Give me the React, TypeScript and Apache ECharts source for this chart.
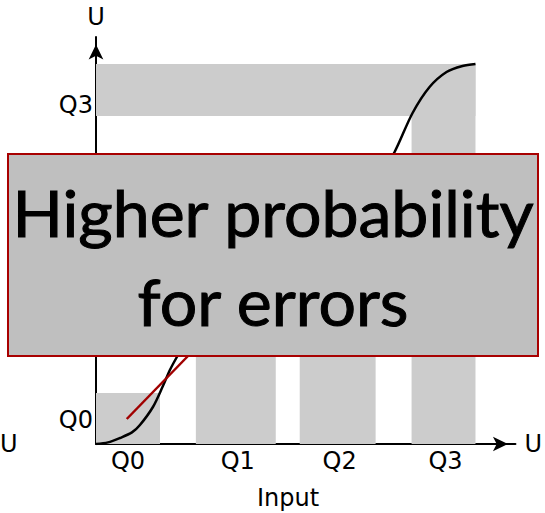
import React, { useEffect, useRef } from "react";
import * as echarts from "echarts";

// Quantisation bins on the input axis
const inputBinLabels = ["Q0", "Q1", "Q2", "Q3"];
const inputBinLabelPos = [8, 35.5, 61, 87.5];
const inputBinStart = [0, 25, 51, 79];
const inputBinEnd = [16, 45, 70, 95];
const inputBinTop = [12.75, 40, 60, 95];

// Output levels on the U axis
const outputLabels = ["Q0", "Q3"];
const outputLabelPos = [6.1, 84.75];
const outputBandLow = [0, 82];
const outputBandHigh = [12.75, 95];
const outputBandEnd = [16, 95];

// Transfer curve
const curveX = [0, 3, 6, 9, 11, 14.25, 16.75, 18.5, 20.25, 25, 32, 40, 47.5, 55, 63, 70, 74.75, 79.25, 83.5, 87.75, 91.75, 95];
const curveY = [0, 0.4, 1.5, 2.9, 4.75, 9.25, 14.5, 18.5, 21.75, 30, 39, 45, 47.5, 50, 56, 65, 73, 82.75, 89.25, 93, 94.5, 95];

// Tangent at the lower knee
const tangentX = [7.7, 24];
const tangentY = [6.25, 23];

const FONT = "'DejaVu Sans', Verdana, sans-serif";

export default function App() {
  const ref = useRef<HTMLDivElement>(null);

  useEffect(() => {
    if (!ref.current) return;
    const chart = echarts.init(ref.current, null, { renderer: "svg" });

    const rects: number[][] = [];
    inputBinStart.forEach((s, i) => rects.push([s, inputBinEnd[i], 0, inputBinTop[i]]));
    outputBandLow.forEach((lo, i) => rects.push([0, outputBandEnd[i], lo, outputBandHigh[i]]));

    const axisLine = (symbolOffset: number[]) => ({
      show: true,
      symbol: ["none", "arrow"],
      symbolSize: [11, 15],
      symbolOffset,
      lineStyle: { color: "#000", width: 2 },
    });

    const boxText = (text: string, y: number) => ({
      type: "text",
      x: 273,
      y,
      z: 101,
      scaleX: 1.05,
      style: {
        text,
        font: "63px Lato",
        fill: "#000",
        stroke: "#000",
        lineWidth: 1,
        textAlign: "center",
        textVerticalAlign: "middle",
      },
    });

    chart.setOption({
      animation: false,
      backgroundColor: "#fff",
      grid: { left: 96, top: 37, width: 420, height: 407, containLabel: false },
      xAxis: {
        type: "value",
        min: 0,
        max: 105,
        name: "U",
        nameLocation: "end",
        nameGap: 9,
        nameTextStyle: { fontFamily: FONT, fontSize: 24, color: "#000" },
        axisLine: axisLine([0, -7.5]),
        axisTick: { show: false },
        splitLine: { show: false },
        axisLabel: {
          customValues: inputBinLabelPos,
          formatter: (v: number) => inputBinLabels[inputBinLabelPos.indexOf(v)] ?? "",
          fontFamily: FONT,
          fontSize: 24,
          color: "#000",
          verticalAlign: "middle",
          margin: 17,
        },
      },
      yAxis: {
        type: "value",
        min: 0,
        max: 101.75,
        name: "U",
        nameLocation: "end",
        nameGap: 8,
        nameTextStyle: { fontFamily: FONT, fontSize: 24, color: "#000" },
        axisLine: axisLine([0, -7.5]),
        axisTick: { show: false },
        splitLine: { show: false },
        axisLabel: {
          customValues: outputLabelPos,
          formatter: (v: number) => outputLabels[outputLabelPos.indexOf(v)] ?? "",
          fontFamily: FONT,
          fontSize: 24,
          color: "#000",
          margin: 3,
        },
      },
      series: [
        {
          type: "custom",
          silent: true,
          z: 1,
          encode: { x: [0, 1], y: [2, 3] },
          data: rects,
          renderItem: (_params: any, api: any) => {
            const p0 = api.coord([api.value(0), api.value(3)]);
            const p1 = api.coord([api.value(1), api.value(2)]);
            return {
              type: "rect",
              shape: { x: p0[0], y: p0[1], width: p1[0] - p0[0], height: p1[1] - p0[1] },
              style: { fill: "#cccccc" },
            };
          },
        },
        {
          type: "line",
          z: 3,
          symbol: "none",
          smooth: 0.3,
          data: curveX.map((x, i) => [x, curveY[i]]),
          lineStyle: { color: "#000", width: 2.5 },
        },
        {
          type: "line",
          z: 4,
          symbol: "none",
          data: tangentX.map((x, i) => [x, tangentY[i]]),
          lineStyle: { color: "#a00000", width: 2.5 },
        },
      ],
      graphic: [
        {
          type: "text",
          x: 0,
          y: 444,
          z: 10,
          style: { text: "U", font: `24px ${FONT}`, fill: "#000", textAlign: "left", textVerticalAlign: "middle" },
        },
        {
          type: "text",
          x: 288,
          y: 498,
          z: 10,
          style: { text: "Input", font: `24px ${FONT}`, fill: "#000", textAlign: "center", textVerticalAlign: "middle" },
        },
        {
          type: "rect",
          z: 100,
          shape: { x: 8, y: 154, width: 530, height: 202 },
          style: { fill: "#bfbfbf", stroke: "#a80000", lineWidth: 2 },
        },
        boxText("Higher probability", 212.5),
        boxText("for errors", 301.5),
      ],
    });

    return () => chart.dispose();
  }, []);

  return (
    <div
      ref={ref}
      style={{ position: "fixed", left: 0, top: 0, width: 545, height: 513 }}
    />
  );
}
